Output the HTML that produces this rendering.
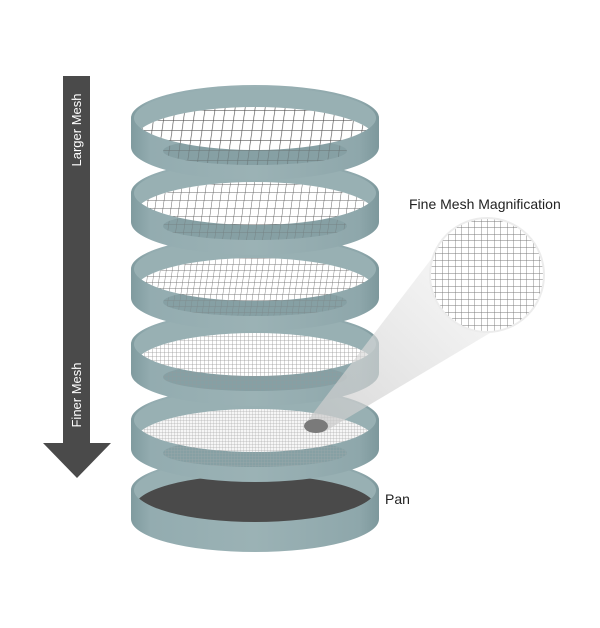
<!DOCTYPE html>
<html><head><style>html,body{margin:0;padding:0;background:#fff;}svg{display:block}</style></head>
<body>
<svg width="600" height="628" viewBox="0 0 600 628" xmlns="http://www.w3.org/2000/svg" font-family="Liberation Sans, sans-serif">
<defs>
<linearGradient id="band" x1="0" x2="1" y1="0" y2="0">
<stop offset="0" stop-color="#809b9f"/><stop offset="0.08" stop-color="#93acb0"/><stop offset="0.5" stop-color="#9bb2b5"/><stop offset="0.92" stop-color="#8ea7ab"/><stop offset="1" stop-color="#7d989c"/>
</linearGradient>
<pattern id="m1" width="10" height="10" patternUnits="userSpaceOnUse" patternTransform="skewX(-8)"><path d="M0 0H10M0 0V10" stroke="#555" stroke-width="1.3"/></pattern>
<pattern id="m2" width="8" height="8" patternUnits="userSpaceOnUse" patternTransform="skewX(-8)"><path d="M0 0H8M0 0V8" stroke="#666" stroke-width="1"/></pattern>
<pattern id="m3" width="6" height="6" patternUnits="userSpaceOnUse" patternTransform="skewX(-8)"><path d="M0 0H6M0 0V6" stroke="#777" stroke-width="0.9"/></pattern>
<pattern id="m4" width="4" height="4" patternUnits="userSpaceOnUse"><path d="M0 0H4M0 0V4" stroke="#999" stroke-width="0.8"/></pattern>
<pattern id="m5" width="3" height="3" patternUnits="userSpaceOnUse"><path d="M0 0H3M0 0V3" stroke="#b0b0b0" stroke-width="0.7"/></pattern>
<pattern id="mg" width="6.5" height="6.5" patternUnits="userSpaceOnUse"><rect width="6.5" height="6.5" fill="#fff"/><path d="M0 0H6.5M0 0V6.5" stroke="#7a7a7a" stroke-width="0.9"/></pattern>
<linearGradient id="cone" x1="0" y1="1" x2="1" y2="0"><stop offset="0" stop-color="#c8c8c8" stop-opacity="0.75"/><stop offset="1" stop-color="#f0f0f0" stop-opacity="0.5"/></linearGradient>
<clipPath id="a1"><ellipse cx="255" cy="140" rx="121" ry="33"/></clipPath>
<clipPath id="a2"><ellipse cx="255" cy="215" rx="121" ry="33"/></clipPath>
<clipPath id="a3"><ellipse cx="255" cy="291" rx="121" ry="33"/></clipPath>
<clipPath id="a4"><ellipse cx="255" cy="366" rx="121" ry="33"/></clipPath>
<clipPath id="a5"><ellipse cx="255" cy="442" rx="121" ry="33"/></clipPath>
<clipPath id="ap"><ellipse cx="255" cy="508" rx="121" ry="33"/></clipPath>
</defs>

<rect x="63" y="76" width="27" height="368" fill="#4a4a4a"/>
<polygon points="43,443 111,443 77,478" fill="#4a4a4a"/>
<text transform="translate(81,130) rotate(-90)" text-anchor="middle" fill="#fff" font-size="13">Larger Mesh</text>
<text transform="translate(81,395) rotate(-90)" text-anchor="middle" fill="#fff" font-size="13">Finer Mesh</text>

<!-- Pan -->
<path d="M131 490 A124 33 0 0 1 379 490 V519 A124 33 0 0 1 131 519 Z" fill="url(#band)"/>
<ellipse cx="255" cy="490" rx="121" ry="31" fill="#98b0b3"/>
<ellipse cx="255" cy="489" rx="121" ry="33" fill="#4a4a4a" clip-path="url(#ap)"/>

<!-- Sieve 5 -->
<path d="M131 420 A124 33 0 0 1 379 420 V449 A124 33 0 0 1 131 449 Z" fill="url(#band)"/>
<ellipse cx="255" cy="420" rx="121" ry="31" fill="#98b0b3"/>
<ellipse cx="255" cy="453" rx="92" ry="14" fill="#86a0a4"/>
<ellipse cx="255" cy="453" rx="92" ry="14" fill="url(#m5)" opacity="0.5"/>
<g clip-path="url(#a5)"><ellipse cx="255" cy="419" rx="121" ry="33" fill="#f6f6f6"/><ellipse cx="255" cy="419" rx="121" ry="33" fill="url(#m5)"/></g>

<!-- Sieve 4 -->
<path d="M131 344 A124 33 0 0 1 379 344 V373 A124 33 0 0 1 131 373 Z" fill="url(#band)"/>
<ellipse cx="255" cy="344" rx="121" ry="31" fill="#98b0b3"/>
<ellipse cx="255" cy="377" rx="92" ry="14" fill="#86a0a4"/>
<ellipse cx="255" cy="377" rx="92" ry="14" fill="url(#m4)" opacity="0.5"/>
<g clip-path="url(#a4)"><ellipse cx="255" cy="343" rx="121" ry="33" fill="#fff"/><ellipse cx="255" cy="343" rx="121" ry="33" fill="url(#m4)"/></g>

<!-- Sieve 3 -->
<path d="M131 269 A124 33 0 0 1 379 269 V298 A124 33 0 0 1 131 298 Z" fill="url(#band)"/>
<ellipse cx="255" cy="269" rx="121" ry="31" fill="#98b0b3"/>
<ellipse cx="255" cy="302" rx="92" ry="14" fill="#86a0a4"/>
<ellipse cx="255" cy="302" rx="92" ry="14" fill="url(#m3)" opacity="0.5"/>
<g clip-path="url(#a3)"><ellipse cx="255" cy="268" rx="121" ry="33" fill="#fff"/><ellipse cx="255" cy="268" rx="121" ry="33" fill="url(#m3)"/></g>

<!-- Sieve 2 -->
<path d="M131 193 A124 33 0 0 1 379 193 V222 A124 33 0 0 1 131 222 Z" fill="url(#band)"/>
<ellipse cx="255" cy="193" rx="121" ry="31" fill="#98b0b3"/>
<ellipse cx="255" cy="226" rx="92" ry="14" fill="#86a0a4"/>
<ellipse cx="255" cy="226" rx="92" ry="14" fill="url(#m2)" opacity="0.5"/>
<g clip-path="url(#a2)"><ellipse cx="255" cy="192" rx="121" ry="33" fill="#fff"/><ellipse cx="255" cy="192" rx="121" ry="33" fill="url(#m2)"/></g>

<!-- Sieve 1 -->
<path d="M131 118 A124 33 0 0 1 379 118 V147 A124 33 0 0 1 131 147 Z" fill="url(#band)"/>
<ellipse cx="255" cy="118" rx="121" ry="31" fill="#98b0b3"/>
<ellipse cx="255" cy="151" rx="92" ry="14" fill="#86a0a4"/>
<ellipse cx="255" cy="151" rx="92" ry="14" fill="url(#m1)" opacity="0.5"/>
<g clip-path="url(#a1)"><ellipse cx="255" cy="117" rx="121" ry="33" fill="#fff"/><ellipse cx="255" cy="117" rx="121" ry="33" fill="url(#m1)"/></g>

<polygon points="308,420 432,258 490,333 324,432" fill="url(#cone)"/>
<ellipse cx="316" cy="426" rx="12" ry="7" fill="#7a7a7a"/>
<circle cx="487" cy="275" r="57" fill="url(#mg)"/>
<circle cx="487" cy="275" r="57" fill="none" stroke="#ececec" stroke-width="2"/>

<text x="409" y="209" font-size="14" fill="#222">Fine Mesh Magnification</text>
<text x="385" y="504" font-size="14" fill="#222">Pan</text>
</svg>
</body></html>
